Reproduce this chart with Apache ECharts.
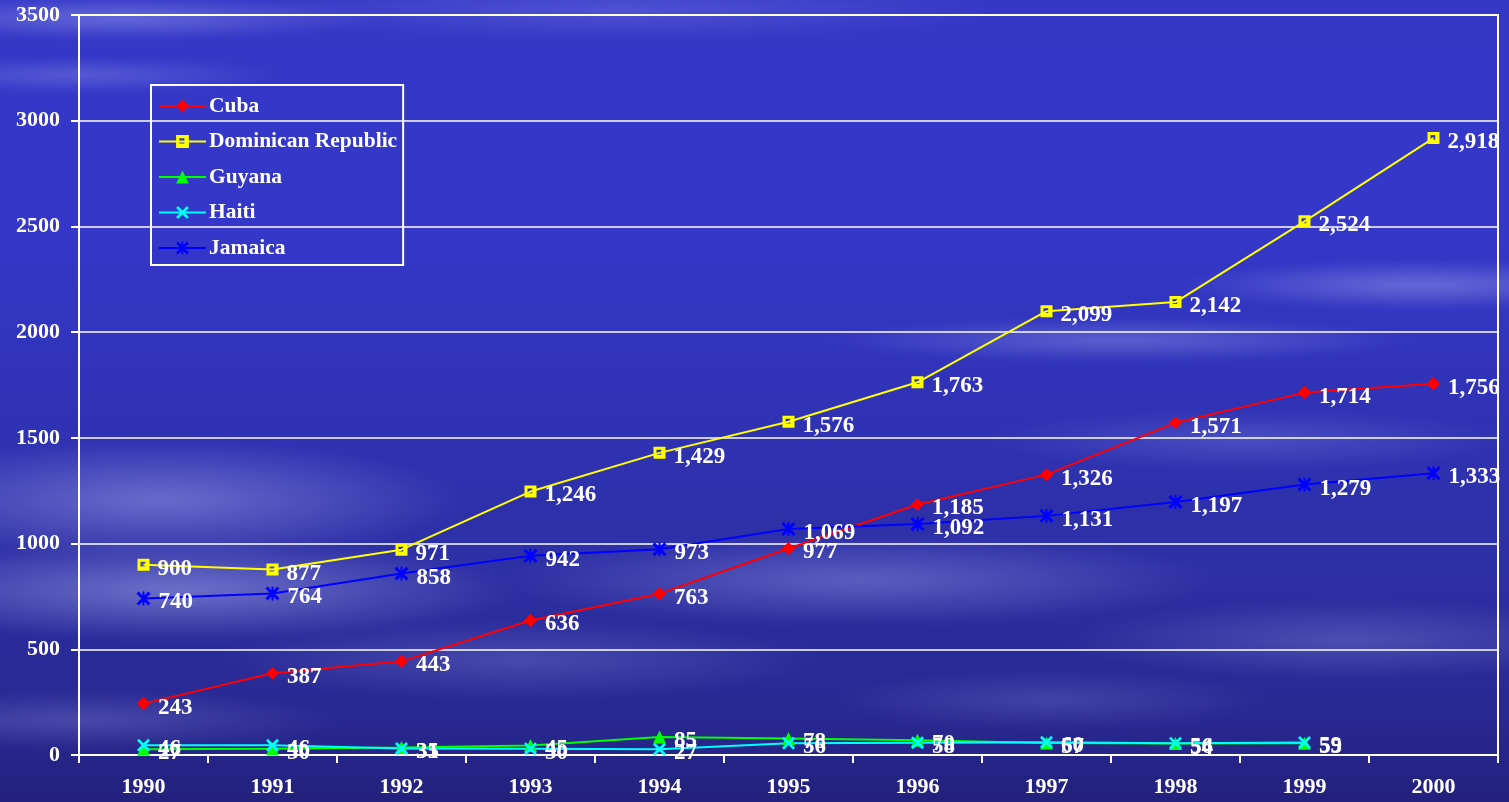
<!DOCTYPE html>
<html>
<head>
<meta charset="utf-8">
<script src="https://cdn.jsdelivr.net/npm/echarts@6/dist/echarts.min.js"></script>
<style>
  html, body { margin: 0; padding: 0; width: 1509px; height: 802px; overflow: hidden; background: #2d2fa8; }
  #sky {
    position: absolute; left: -20px; top: -20px; width: 1549px; height: 842px;
    background:
      radial-gradient(ellipse 260px 22px at 140px 38px, rgba(190,200,255,0.35), rgba(0,0,0,0) 100%),
      radial-gradient(ellipse 200px 18px at 100px 95px, rgba(190,200,255,0.25), rgba(0,0,0,0) 100%),
      radial-gradient(ellipse 380px 30px at 640px 30px, rgba(170,180,255,0.22), rgba(0,0,0,0) 100%),
      radial-gradient(ellipse 240px 25px at 1440px 305px, rgba(200,205,255,0.35), rgba(0,0,0,0) 100%),
      radial-gradient(ellipse 300px 22px at 1140px 360px, rgba(190,200,255,0.30), rgba(0,0,0,0) 100%),
      radial-gradient(ellipse 260px 30px at 1270px 460px, rgba(170,180,250,0.22), rgba(0,0,0,0) 100%),
      radial-gradient(ellipse 300px 60px at 180px 520px, rgba(200,205,255,0.38), rgba(0,0,0,0) 100%),
      radial-gradient(ellipse 340px 50px at 200px 610px, rgba(200,205,255,0.42), rgba(0,0,0,0) 100%),
      radial-gradient(ellipse 360px 45px at 880px 600px, rgba(190,195,250,0.32), rgba(0,0,0,0) 100%),
      radial-gradient(ellipse 300px 40px at 540px 680px, rgba(180,185,245,0.22), rgba(0,0,0,0) 100%),
      radial-gradient(ellipse 280px 40px at 1370px 660px, rgba(180,185,245,0.25), rgba(0,0,0,0) 100%),
      radial-gradient(ellipse 220px 30px at 1070px 720px, rgba(170,175,240,0.20), rgba(0,0,0,0) 100%),
      radial-gradient(ellipse 260px 30px at 100px 740px, rgba(170,175,240,0.25), rgba(0,0,0,0) 100%),
      linear-gradient(to bottom, #3537c6 0%, #3437c9 30%, #3033b6 50%, #2d2fa4 70%, #282891 88%, #221f78 100%);
    filter: blur(3px);
  }
  #chart { position: absolute; left: 0; top: 0; width: 1509px; height: 802px; }
</style>
</head>
<body>
<div id="sky"></div>
<div id="chart"></div>
<script>
// Years on the category axis
const years = ['1990', '1991', '1992', '1993', '1994', '1995', '1996', '1997', '1998', '1999', '2000'];

// Values per country
const cuba      = [243, 387, 443, 636, 763, 977, 1185, 1326, 1571, 1714, 1756];
const dominican = [900, 877, 971, 1246, 1429, 1576, 1763, 2099, 2142, 2524, 2918];
const guyana    = [27, 30, 35, 45, 85, 78, 70, 57, 54, 55, null];
const haiti     = [46, 46, 31, 30, 27, 56, 58, 60, 56, 59, null];
const jamaica   = [740, 764, 858, 942, 973, 1069, 1092, 1131, 1197, 1279, 1333];

// Value axis range
const yMin = 0, yMax = 3500, yStep = 500;

const serif = '"Liberation Serif", "Times New Roman", serif';

// Marker shapes
const squareMark = 'path://M0,0H10V10H0Z M2.5,2.5V6.5H6.5V2.5Z';
const crossMark = 'path://M0,1.5L1.5,0L5,3.5L8.5,0L10,1.5L6.5,5L10,8.5L8.5,10L5,6.5L1.5,10L0,8.5L3.5,5Z';
const starMark = 'path://M0,1.5L1.5,0L5,3.5L8.5,0L10,1.5L6.5,5L10,8.5L8.5,10L5,6.5L1.5,10L0,8.5L3.5,5Z M4.3,0H5.7V10H4.3Z';

function makeSeries(name, data, color, symbol, size) {
  return {
    name: name,
    type: 'line',
    data: data,
    symbol: symbol,
    symbolSize: size,
    showAllSymbol: true,
    lineStyle: { color: color, width: 2 },
    itemStyle: { color: color, borderWidth: 0 },
    label: {
      show: true,
      position: 'right',
      distance: 8,
      offset: [0, 4],
      color: '#ffffff',
      fontFamily: serif,
      fontWeight: 'bold',
      fontSize: 23,
      formatter: p => p.value == null ? '' : Number(p.value).toLocaleString('en-US')
    },
    emphasis: { disabled: true },
    animation: false
  };
}

const chart = echarts.init(document.getElementById('chart'), null, { renderer: 'canvas' });
chart.setOption({
  backgroundColor: 'transparent',
  animation: false,
  grid: {
    left: 79, right: 11, top: 15, bottom: 47,
    show: true, borderColor: '#ffffff', borderWidth: 2, backgroundColor: 'transparent'
  },
  legend: {
    orient: 'vertical',
    left: 151, top: 85,
    padding: [10, 6, 6, 7],
    itemGap: 13.5,
    itemWidth: 47,
    itemHeight: 16,
    borderColor: '#ffffff',
    borderWidth: 2,
    textStyle: { color: '#ffffff', fontFamily: serif, fontWeight: 'bold', fontSize: 21.5, padding: [0, 0, 0, -2] },
    data: ['Cuba', 'Dominican Republic', 'Guyana', 'Haiti', 'Jamaica']
  },
  xAxis: {
    type: 'category',
    data: years,
    boundaryGap: true,
    axisLine: { lineStyle: { color: '#ffffff', width: 2 } },
    axisTick: { show: true, length: 8, lineStyle: { color: '#ffffff', width: 2 } },
    axisLabel: { color: '#ffffff', fontFamily: serif, fontWeight: 'bold', fontSize: 22, margin: 21 },
    splitLine: { show: false }
  },
  yAxis: {
    type: 'value',
    min: yMin, max: yMax, interval: yStep,
    axisLine: { show: true, lineStyle: { color: '#ffffff', width: 2 } },
    axisTick: { show: true, length: 8, lineStyle: { color: '#ffffff', width: 2 } },
    axisLabel: { color: '#ffffff', fontFamily: serif, fontWeight: 'bold', fontSize: 22, margin: 19, formatter: v => String(v) },
    splitLine: { show: true, lineStyle: { color: '#ffffff', width: 1.5 } }
  },
  series: [
    makeSeries('Cuba', cuba, '#ff0000', 'diamond', 13),
    makeSeries('Dominican Republic', dominican, '#ffff00', squareMark, 12),
    makeSeries('Guyana', guyana, '#00ff00', 'triangle', 13),
    makeSeries('Haiti', haiti, '#00ffff', crossMark, 13),
    makeSeries('Jamaica', jamaica, '#0000ff', starMark, 14)
  ]
});
</script>
</body>
</html>
